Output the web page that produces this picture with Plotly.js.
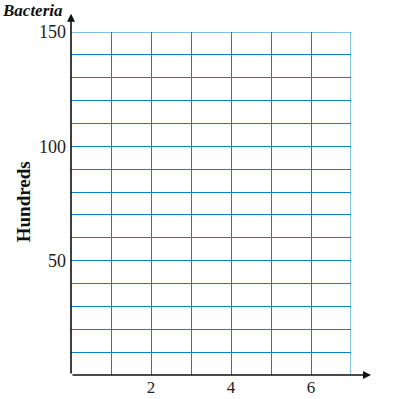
<!DOCTYPE html>
<html><head><meta charset="utf-8">
<script src="https://cdn.plot.ly/plotly-3.0.1.min.js"></script>
<style>html,body{margin:0;padding:0;background:#fff}#c{width:410px;height:399px}</style>
</head><body><div id="c"></div>
<script>
const xTickVals = [2, 4, 6];
const xTickText = ["2", "4", "6"];
const yTickVals = [50, 100, 150];
const yTickText = ["50", "100", "150"];
const xRange = [0, 7];
const yRange = [0, 150];
const xLabel = "Day";
const yLabelTop = "Bacteria";
const yLabelSide = "Hundreds";

const grid = "#0886c2";
const serif = "Liberation Serif, Times New Roman, serif";

const data = [{x: [], y: [], type: "scatter", mode: "markers", showlegend: false}];
const layout = {
  width: 410, height: 399,
  margin: {l: 71, r: 59, t: 32, b: 24, pad: 0},
  paper_bgcolor: "#fff", plot_bgcolor: "#fff",
  showlegend: false,
  xaxis: {
    range: xRange, tickvals: xTickVals, ticktext: xTickText,
    showgrid: true, gridcolor: grid, gridwidth: 1,
    minor: {dtick: 1, tick0: 0, showgrid: true, gridcolor: grid, gridwidth: 1},
    zeroline: false, showline: false, ticks: "", ticklen: 0, ticklabelstandoff: 0,
    tickfont: {family: serif, size: 17, color: "#222"},
    fixedrange: true
  },
  yaxis: {
    range: yRange, tickvals: yTickVals, ticktext: yTickText,
    showgrid: true, gridcolor: grid, gridwidth: 1,
    minor: {dtick: 10, tick0: 0, showgrid: true, gridcolor: grid, gridwidth: 1},
    zeroline: false, showline: false, ticks: "", ticklen: 0, ticklabelstandoff: 4,
    tickfont: {family: serif, size: 18, color: "#222"},
    fixedrange: true
  },
  shapes: [
    {type: "line", xref: "x", yref: "y", x0: xRange[0], x1: xRange[1], y0: yRange[1], y1: yRange[1],
     line: {color: grid, width: 1}},
    {type: "line", xref: "x", yref: "y", x0: xRange[1], x1: xRange[1], y0: yRange[0], y1: yRange[1],
     line: {color: grid, width: 1}}
  ],
  annotations: [
    {x: 0, y: 158, xref: "x", yref: "y", ax: 0, ay: 0, axref: "x", ayref: "y",
     text: "", showarrow: true, arrowhead: 2, arrowsize: 1, arrowwidth: 1.6, arrowcolor: "#111"},
    {x: 7.5, y: 0, xref: "x", yref: "y", ax: 0, ay: 0, axref: "x", ayref: "y",
     text: "", showarrow: true, arrowhead: 2, arrowsize: 1, arrowwidth: 1.6, arrowcolor: "#111"},
    {x: 0, y: 1.03, xref: "paper", yref: "paper", xanchor: "right", yanchor: "bottom",
     xshift: -6, yshift: 0, text: "<b><i>" + yLabelTop + "</i></b>", showarrow: false,
     font: {family: serif, size: 17, color: "#111"}},
    {x: 7.5, y: 0, xref: "x", yref: "y", xanchor: "left", yanchor: "middle",
     xshift: 2, yshift: 1, text: "<b><i>" + xLabel + "</i></b>", showarrow: false,
     font: {family: serif, size: 17, color: "#111"}},
    {x: -0.171, y: 0.504, xref: "paper", yref: "paper", xanchor: "center", yanchor: "middle",
     text: "<b>" + yLabelSide + "</b>", textangle: -90, showarrow: false,
     font: {family: serif, size: 19, color: "#111"}}
  ]
};
Plotly.newPlot("c", data, layout, {staticPlot: true, displayModeBar: false});
</script></body></html>
